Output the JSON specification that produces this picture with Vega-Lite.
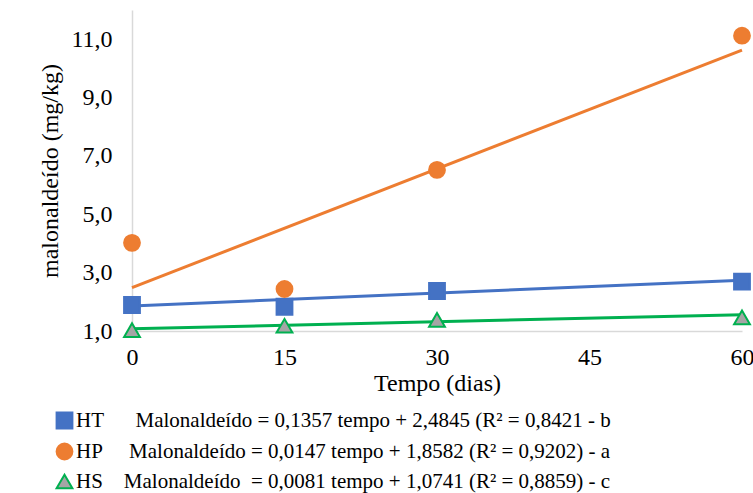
{
  "$schema": "https://vega.github.io/schema/vega-lite/v6.json",
  "width": 610,
  "height": 321,
  "autosize": {"type": "none"},
  "padding": {"left": 132, "top": 10, "right": 11, "bottom": 162},
  "background": "white",
  "config": {
    "view": {"stroke": null},
    "font": "Liberation Serif",
    "axis": {"labelColor": "#000000", "titleColor": "#000000", "labelFont": "Liberation Serif", "titleFont": "Liberation Serif"},
    "legend": {"labelFont": "Liberation Serif", "labelColor": "#000000", "labelFontSize": 21},
    "style": {"guide-label": {"font": "Liberation Serif", "fill": "#000000"}}
  },
  "datasets": {
    "pontos": [
      {"tempo": 0, "valor": 1.89, "serie": "HT\u00a0\u00a0\u00a0\u00a0\u00a0\u00a0Malonaldeído = 0,1357 tempo + 2,4845 (R² = 0,8421 - b"},
      {"tempo": 15, "valor": 1.83, "serie": "HT\u00a0\u00a0\u00a0\u00a0\u00a0\u00a0Malonaldeído = 0,1357 tempo + 2,4845 (R² = 0,8421 - b"},
      {"tempo": 30, "valor": 2.37, "serie": "HT\u00a0\u00a0\u00a0\u00a0\u00a0\u00a0Malonaldeído = 0,1357 tempo + 2,4845 (R² = 0,8421 - b"},
      {"tempo": 60, "valor": 2.69, "serie": "HT\u00a0\u00a0\u00a0\u00a0\u00a0\u00a0Malonaldeído = 0,1357 tempo + 2,4845 (R² = 0,8421 - b"},
      {"tempo": 0, "valor": 4.02, "serie": "HP\u00a0\u00a0\u00a0\u00a0\u00a0Malonaldeído = 0,0147 tempo + 1,8582 (R² = 0,9202) - a"},
      {"tempo": 15, "valor": 2.44, "serie": "HP\u00a0\u00a0\u00a0\u00a0\u00a0Malonaldeído = 0,0147 tempo + 1,8582 (R² = 0,9202) - a"},
      {"tempo": 30, "valor": 6.52, "serie": "HP\u00a0\u00a0\u00a0\u00a0\u00a0Malonaldeído = 0,0147 tempo + 1,8582 (R² = 0,9202) - a"},
      {"tempo": 60, "valor": 11.12, "serie": "HP\u00a0\u00a0\u00a0\u00a0\u00a0Malonaldeído = 0,0147 tempo + 1,8582 (R² = 0,9202) - a"},
      {"tempo": 0, "valor": 1.03, "serie": "HS\u00a0\u00a0\u00a0\u00a0Malonaldeído\u00a0\u00a0= 0,0081 tempo + 1,0741 (R² = 0,8859) - c"},
      {"tempo": 15, "valor": 1.18, "serie": "HS\u00a0\u00a0\u00a0\u00a0Malonaldeído\u00a0\u00a0= 0,0081 tempo + 1,0741 (R² = 0,8859) - c"},
      {"tempo": 30, "valor": 1.38, "serie": "HS\u00a0\u00a0\u00a0\u00a0Malonaldeído\u00a0\u00a0= 0,0081 tempo + 1,0741 (R² = 0,8859) - c"},
      {"tempo": 60, "valor": 1.47, "serie": "HS\u00a0\u00a0\u00a0\u00a0Malonaldeído\u00a0\u00a0= 0,0081 tempo + 1,0741 (R² = 0,8859) - c"}
    ],
    "ajustes": [
      {"tempo": 0, "valor": 1.8582, "serie": "HT\u00a0\u00a0\u00a0\u00a0\u00a0\u00a0Malonaldeído = 0,1357 tempo + 2,4845 (R² = 0,8421 - b"},
      {"tempo": 60, "valor": 2.7402, "serie": "HT\u00a0\u00a0\u00a0\u00a0\u00a0\u00a0Malonaldeído = 0,1357 tempo + 2,4845 (R² = 0,8421 - b"},
      {"tempo": 0, "valor": 2.4845, "serie": "HP\u00a0\u00a0\u00a0\u00a0\u00a0Malonaldeído = 0,0147 tempo + 1,8582 (R² = 0,9202) - a"},
      {"tempo": 60, "valor": 10.6265, "serie": "HP\u00a0\u00a0\u00a0\u00a0\u00a0Malonaldeído = 0,0147 tempo + 1,8582 (R² = 0,9202) - a"},
      {"tempo": 0, "valor": 1.0741, "serie": "HS\u00a0\u00a0\u00a0\u00a0Malonaldeído\u00a0\u00a0= 0,0081 tempo + 1,0741 (R² = 0,8859) - c"},
      {"tempo": 60, "valor": 1.5601, "serie": "HS\u00a0\u00a0\u00a0\u00a0Malonaldeído\u00a0\u00a0= 0,0081 tempo + 1,0741 (R² = 0,8859) - c"}
    ]
  },
  "layer": [
    {
      "data": {"name": "ajustes"},
      "mark": {"type": "line", "strokeWidth": 3},
      "encoding": {
        "x": {
          "field": "tempo",
          "type": "quantitative",
          "scale": {"domain": [0, 60], "nice": false, "zero": false},
          "axis": {
            "values": [0, 15, 30, 45, 60],
            "title": "Tempo (dias)",
            "titleFontSize": 24,
            "titleFontWeight": "normal",
            "titlePadding": 2,
            "labelFontSize": 24,
            "labelPadding": 14,
            "labelFlush": false,
            "ticks": false,
            "grid": false,
            "domainColor": "#d9d9d9",
            "domainWidth": 1.5
          }
        },
        "y": {
          "field": "valor",
          "type": "quantitative",
          "scale": {"domain": [1, 12], "nice": false, "zero": false},
          "axis": {
            "values": [1, 3, 5, 7, 9, 11],
            "labelExpr": "replace(format(datum.value, '.1f'), '.', ',')",
            "title": "malonaldeído (mg/kg)",
            "titleFontSize": 24,
            "titleFontWeight": "normal",
            "titlePadding": 8,
            "labelFontSize": 24,
            "labelPadding": 20,
            "ticks": false,
            "grid": false,
            "domainColor": "#d9d9d9",
            "domainWidth": 1.5
          }
        },
        "stroke": {
          "field": "serie",
          "type": "nominal",
          "scale": {
            "domain": [
              "HT\u00a0\u00a0\u00a0\u00a0\u00a0\u00a0Malonaldeído = 0,1357 tempo + 2,4845 (R² = 0,8421 - b",
              "HP\u00a0\u00a0\u00a0\u00a0\u00a0Malonaldeído = 0,0147 tempo + 1,8582 (R² = 0,9202) - a",
              "HS\u00a0\u00a0\u00a0\u00a0Malonaldeído\u00a0\u00a0= 0,0081 tempo + 1,0741 (R² = 0,8859) - c"
            ],
            "range": ["#4472c4", "#ed7d31", "#00b050"]
          },
          "legend": {
            "orient": "none",
            "legendX": -78,
            "legendY": 400,
            "direction": "vertical",
            "title": null,
            "labelFont": "Liberation Serif",
            "labelColor": "#000000",
            "labelFontSize": 21,
            "labelLimit": 800,
            "labelOffset": 1,
            "rowPadding": 6,
            "symbolSize": 250,
            "symbolStrokeWidth": 2
          }
        }
      }
    },
    {
      "data": {"name": "pontos"},
      "mark": {"type": "point", "filled": true, "opacity": 1, "strokeWidth": 2, "size": 250},
      "encoding": {
        "x": {"field": "tempo", "type": "quantitative"},
        "y": {"field": "valor", "type": "quantitative"},
        "shape": {
          "field": "serie",
          "type": "nominal",
          "scale": {
            "domain": [
              "HT\u00a0\u00a0\u00a0\u00a0\u00a0\u00a0Malonaldeído = 0,1357 tempo + 2,4845 (R² = 0,8421 - b",
              "HP\u00a0\u00a0\u00a0\u00a0\u00a0Malonaldeído = 0,0147 tempo + 1,8582 (R² = 0,9202) - a",
              "HS\u00a0\u00a0\u00a0\u00a0Malonaldeído\u00a0\u00a0= 0,0081 tempo + 1,0741 (R² = 0,8859) - c"
            ],
            "range": ["square", "circle", "triangle-up"]
          },
          "legend": {
            "orient": "none",
            "legendX": -78,
            "legendY": 400,
            "direction": "vertical",
            "title": null,
            "labelFont": "Liberation Serif",
            "labelColor": "#000000",
            "labelFontSize": 21,
            "labelLimit": 800,
            "labelOffset": 1,
            "rowPadding": 6,
            "symbolSize": 250,
            "symbolStrokeWidth": 2
          }
        },
        "fill": {
          "field": "serie",
          "type": "nominal",
          "scale": {
            "domain": [
              "HT\u00a0\u00a0\u00a0\u00a0\u00a0\u00a0Malonaldeído = 0,1357 tempo + 2,4845 (R² = 0,8421 - b",
              "HP\u00a0\u00a0\u00a0\u00a0\u00a0Malonaldeído = 0,0147 tempo + 1,8582 (R² = 0,9202) - a",
              "HS\u00a0\u00a0\u00a0\u00a0Malonaldeído\u00a0\u00a0= 0,0081 tempo + 1,0741 (R² = 0,8859) - c"
            ],
            "range": ["#4472c4", "#ed7d31", "#a5a5a5"]
          },
          "legend": {
            "orient": "none",
            "legendX": -78,
            "legendY": 400,
            "direction": "vertical",
            "title": null,
            "labelFont": "Liberation Serif",
            "labelColor": "#000000",
            "labelFontSize": 21,
            "labelLimit": 800,
            "labelOffset": 1,
            "rowPadding": 6,
            "symbolSize": 250,
            "symbolStrokeWidth": 2
          }
        },
        "stroke": {
          "field": "serie",
          "type": "nominal"
        }
      }
    }
  ]
}
